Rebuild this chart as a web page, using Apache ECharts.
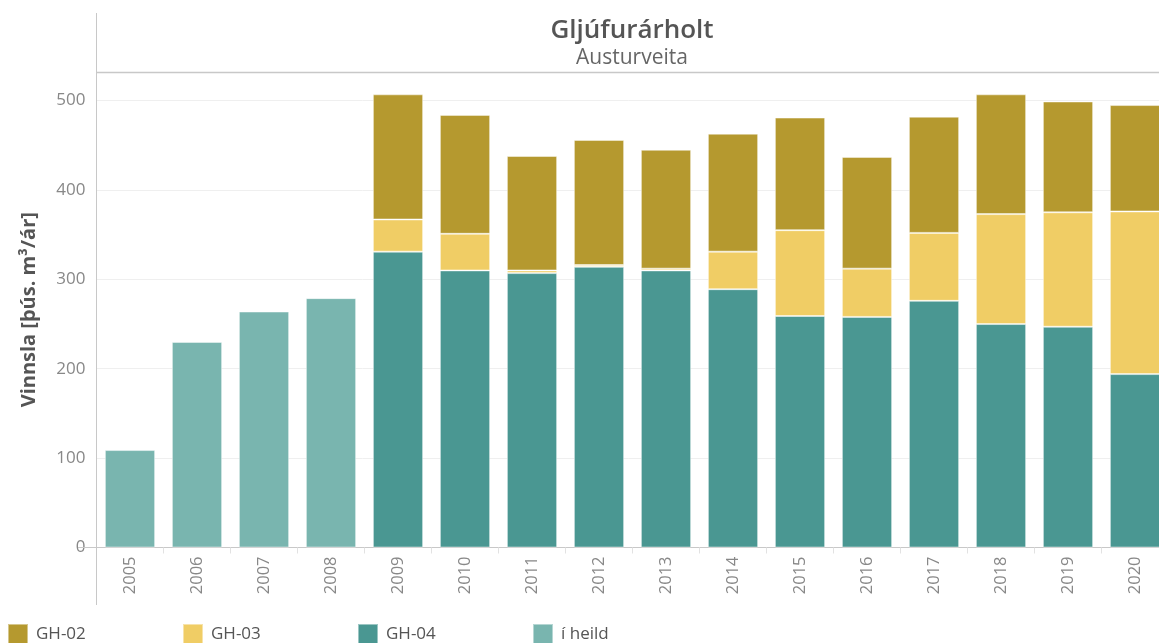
<!DOCTYPE html>
<html><head><meta charset="utf-8">
<script src="https://cdn.jsdelivr.net/npm/echarts@6/dist/echarts.min.js"></script>
<style>html,body{margin:0;padding:0;background:#fff}#c{width:1159px;height:643px}</style>
</head><body><div id="c"></div>
<script>
var years = ['2005','2006','2007','2008','2009','2010','2011','2012','2013','2014','2015','2016','2017','2018','2019','2020'];
var gh04 = [null,null,null,null,331,310,307,314,310,289,259,258,276,250,247,194];
var gh03 = [null,null,null,null,36,41,3,2,2,42,96,54,76,123,128,182];
var gh02 = [null,null,null,null,140,133,128,140,133,132,126,125,130,134,124,119];
var iHeild = [109,230,264,279,null,null,null,null,null,null,null,null,null,null,null,null];
var yTicks = [0,100,200,300,400,500];
var legendNames = ['GH-02','GH-03','GH-04','í heild'];

var FONT = '"Open Sans", "Noto Sans", sans-serif';
var chart = echarts.init(document.getElementById('c'), null, {renderer:'canvas'});
function bar(name, data, color){
  return {name:name, type:'bar', stack:'a', data:data, barCategoryGap:'25%',
    itemStyle:{color:color, borderColor:'rgba(255,255,255,0.45)', borderWidth:1}};
}
var legendLefts = [7, 182, 357, 532];
var legends = legendNames.map(function(n, i){
  return {left:legendLefts[i], top:623, padding:0, itemWidth:20, itemHeight:20, icon:'rect',
    selectedMode:false, data:[n],
    textStyle:{fontFamily:FONT, fontSize:17, color:'#555', padding:[0,0,0,3]}};
});
chart.setOption({
  animation:false,
  title:[
    {text:'Gljúfurárholt', left:632, top:18, padding:0, textAlign:'center',
     textStyle:{fontFamily:FONT, fontSize:26, fontWeight:600, color:'#555'}},
    {text:'Austurveita', left:632, top:48, padding:0, textAlign:'center',
     textStyle:{fontFamily:FONT, fontSize:21, fontWeight:'normal', color:'#666'}}
  ],
  grid:{left:96.5, top:72, width:1072, bottom:95.5, containLabel:false, outerBoundsMode:'none'},
  legend:legends,
  xAxis:{type:'category', data:years,
    axisLine:{lineStyle:{color:'#c8c8c8', width:1}},
    axisTick:{show:true, length:6, lineStyle:{color:'#e2e2e2'}},
    axisLabel:{rotate:90, fontFamily:FONT, fontSize:16.5, color:'#888', margin:9}},
  yAxis:{type:'value', min:0, max:532, interval:100,
    name:'Vinnsla [þús. m³/ár]', nameLocation:'middle', nameGap:57, nameRotate:90,
    nameTextStyle:{fontFamily:FONT, fontSize:20, fontWeight:'bold', color:'#555'},
    axisLine:{show:false}, axisTick:{show:false},
    axisLabel:{fontFamily:FONT, fontSize:17, color:'#888', margin:11,
      formatter:function(v){return yTicks.indexOf(v)>=0 ? String(v) : '';}},
    splitLine:{lineStyle:{color:'#efefef', width:1}}},
  graphic:[
    {type:'line', shape:{x1:96.5,y1:13,x2:96.5,y2:605}, style:{stroke:'#c8c8c8', lineWidth:1}, z:100},
    {type:'line', shape:{x1:96.5,y1:72.5,x2:1159,y2:72.5}, style:{stroke:'#c8c8c8', lineWidth:1.5}, z:100},
    {type:'line', shape:{x1:78,y1:547.5,x2:97,y2:547.5}, style:{stroke:'#c8c8c8', lineWidth:1}, z:100}
  ],
  series:[
    bar('GH-04', gh04, '#4a9792'),
    bar('GH-03', gh03, '#f0cd65'),
    bar('GH-02', gh02, '#b5992f'),
    bar('í heild', iHeild, '#79b5af')
  ]
});
</script></body></html>
